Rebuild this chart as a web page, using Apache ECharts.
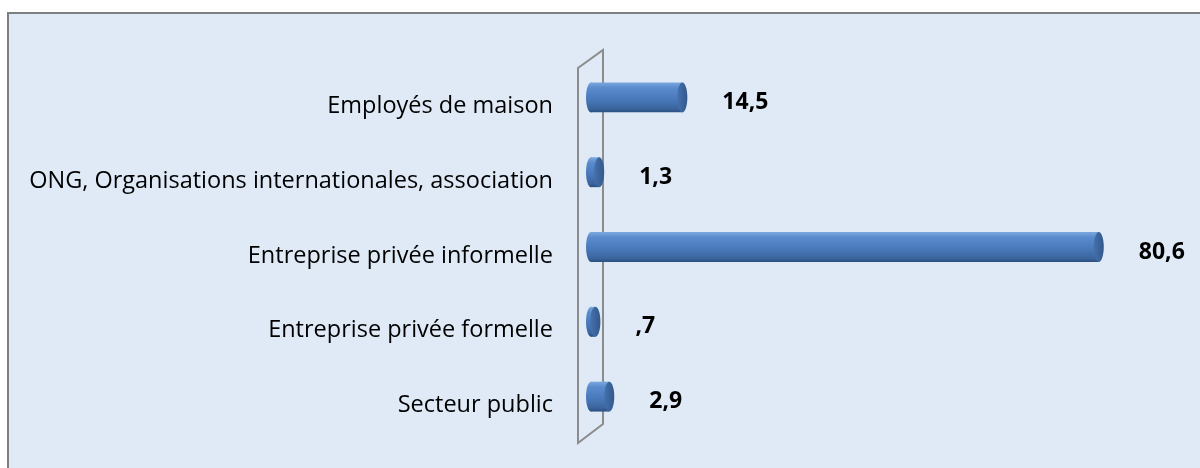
<!DOCTYPE html>
<html>
<head>
<meta charset="utf-8">
<script src="https://cdn.jsdelivr.net/npm/echarts@6/dist/echarts.min.js"></script>
<style>
html, body { margin: 0; padding: 0; background: #fff; }
#container { width: 1200px; height: 468px; }
</style>
</head>
<body>
<div id="container"></div>
<script>
// rows, top to bottom
let categories = ['Employés de maison', 'ONG, Organisations internationales, association', 'Entreprise privée informelle', 'Entreprise privée formelle', 'Secteur public'];
let values = [14.5, 1.3, 80.6, 0.7, 2.9];

let dom = document.getElementById('container');
let myChart = echarts.init(dom);

let labelFont = 'Open Sans';

function fmt(v) {
    // SPSS style: comma decimal, no leading zero
    return String(v).replace('.', ',').replace(/^0,/, ',');
}

let bodyGrad = new echarts.graphic.LinearGradient(0, 0, 0, 1, [
    { offset: 0, color: '#7ca8de' },
    { offset: 0.18, color: '#5a8bcd' },
    { offset: 0.6, color: '#4877b8' },
    { offset: 0.88, color: '#3a649c' },
    { offset: 1, color: '#2b4f80' }
]);
let capGrad = new echarts.graphic.LinearGradient(0, 0, 1, 0, [
    { offset: 0, color: '#4471ad' },
    { offset: 1, color: '#33588b' }
]);

function renderCylinder(params, api) {
    let idx = api.value(0);
    let start = api.coord([0, idx]);
    let end = api.coord([api.value(1), idx]);
    let h = api.size([0, 1])[1] * 0.40;
    let rx = 5;
    let cy = start[1];
    return {
        type: 'group',
        children: [
            { type: 'ellipse', shape: { cx: start[0], cy: cy, rx: rx, ry: h / 2 }, style: { fill: bodyGrad } },
            { type: 'rect', shape: { x: start[0], y: cy - h / 2, width: end[0] - start[0], height: h }, style: { fill: bodyGrad } },
            { type: 'ellipse', shape: { cx: end[0], cy: cy, rx: rx, ry: h / 2 }, style: { fill: capGrad } }
        ]
    };
}

let option = {
    backgroundColor: '#ffffff',
    animation: false,
    graphic: [
        {
            type: 'rect', z: -10,
            shape: { x: 8, y: 13, width: 1200, height: 470 },
            style: { fill: '#dfeaf6', stroke: '#7f7f7f', lineWidth: 2 }
        },
        {
            type: 'polygon', z: 1,
            shape: { points: [[578, 68], [603, 50], [603, 424], [578, 443]] },
            style: { fill: 'none', stroke: '#8c8c8c', lineWidth: 2 }
        }
    ],
    grid: [
        { left: 591, right: 42, top: 60, bottom: 34 },   // bars
        { left: 591, right: 42, top: 69, bottom: 25 }    // labels, a bit lower (3D look)
    ],
    xAxis: [
        { gridIndex: 0, type: 'value', min: 0, max: 90, show: false },
        { gridIndex: 1, type: 'value', min: 0, max: 90, show: false }
    ],
    yAxis: [
        {
            gridIndex: 0, type: 'category', inverse: true,
            data: categories, show: false
        },
        {
            gridIndex: 1, type: 'category', inverse: true,
            data: categories,
            axisLine: { show: false },
            axisTick: { show: false },
            splitLine: { show: false },
            axisLabel: {
                margin: 38,
                color: '#000',
                fontSize: 23.5,
                fontFamily: labelFont
            }
        }
    ],
    series: [
        {
            type: 'custom',
            xAxisIndex: 0,
            yAxisIndex: 0,
            z: 5,
            renderItem: renderCylinder,
            encode: { x: 1, y: 0 },
            data: values.map((v, i) => [i, v])
        },
        {
            type: 'bar',
            xAxisIndex: 1,
            yAxisIndex: 1,
            barWidth: 2,
            silent: true,
            itemStyle: { color: 'rgba(0,0,0,0)' },
            label: {
                show: true,
                position: 'right',
                distance: 40,
                offset: [0, -4],
                color: '#000',
                fontWeight: 'bold',
                fontSize: 23,
                fontFamily: labelFont,
                formatter: p => fmt(p.value)
            },
            data: values
        }
    ]
};
if (option && typeof option === 'object') {
    myChart.setOption(option, true);
}
</script>
</body>
</html>
